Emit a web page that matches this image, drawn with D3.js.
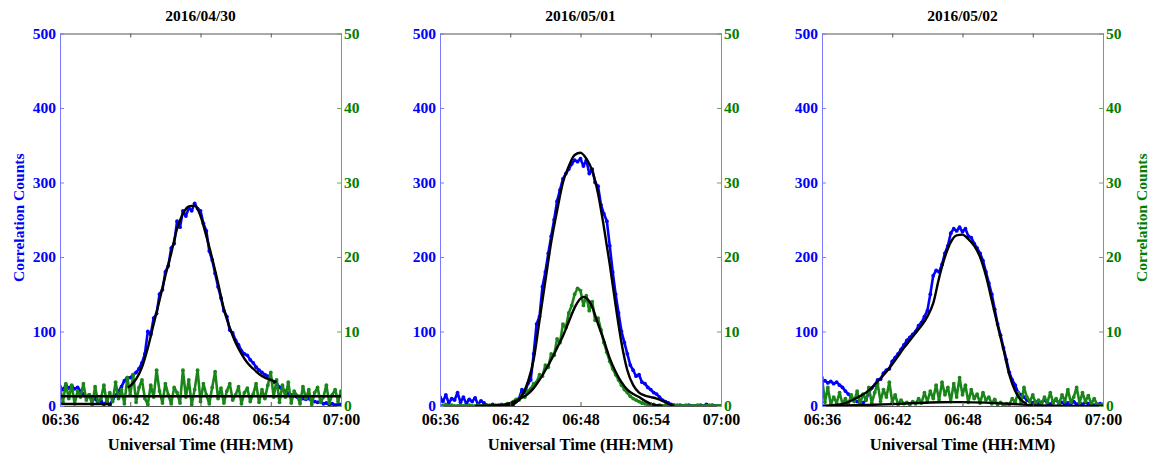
<!DOCTYPE html>
<html>
<head>
<meta charset="utf-8">
<script src="https://cdn.jsdelivr.net/npm/d3@7"></script>
<style>
  body { margin: 0; background: #fff; }
  text { font-family: "Liberation Serif", "Times New Roman", serif; font-weight: bold; }
</style>
</head>
<body>
<div id="chart"></div>
<script>
// panel titles and axis ticks
var dates = ["2016/04/30", "2016/05/01", "2016/05/02"];
var xTicks = [0, 6, 12, 18, 24];               // minutes after 06:36
var xTickLabels = ["06:36", "06:42", "06:48", "06:54", "07:00"];
var leftTicks = [0, 100, 200, 300, 400, 500];
var rightTicks = [0, 10, 20, 30, 40, 50];
var sampleStep = 0.25;                          // minutes between samples

// 2016/04/30 samples (06:36 .. 07:00, every 15 s)
var blue0430 = [26, 22, 28, 24, 27, 23, 25, 20, 16, 12, 15, 8, 10, 4, 7, 2,
    6, 1, 9, 14, 20, 26, 34, 38, 38, 42, 45, 50, 58, 70, 100, 96,
    118, 124, 150, 156, 180, 188, 212, 218, 248, 240, 262, 255, 266, 262, 272, 265,
    262, 245, 235, 208, 196, 178, 160, 145, 128, 120, 102, 98, 88, 82, 74, 70,
    68, 62, 58, 52, 48, 45, 42, 40, 36, 32, 30, 25, 22, 20, 17, 15,
    14, 12, 13, 10, 9, 10, 7, 6, 5, 6, 3, 4, 2, 3, 1, 2, 2];
var green0430 = [2.5, 0.5, 3.0, 1.0, 2.8, 0.3, 2.0, 1.2, 3.0, 0.8, 1.5, 0.2, 2.6, 0.5, 1.0, 2.8,
    0.4, 1.8, 0.6, 3.2, 1.0, 2.2, 0.3, 3.8, 1.5, 4.2, 0.5, 2.5, 3.5, 1.0, 0.2, 2.8,
    1.2, 4.8, 2.0, 0.4, 3.0, 1.5, 0.3, 2.5, 1.8, 0.4, 4.8, 1.2, 3.5, 0.2, 2.2, 4.8,
    0.6, 3.0, 1.5, 0.3, 2.5, 4.6, 1.0, 2.4, 0.4, 2.0, 3.0, 0.8, 1.5, 2.6, 0.3, 1.8,
    2.4, 0.6, 1.6, 3.0, 0.5, 2.2, 1.0, 2.8, 4.5, 1.2, 3.5, 0.5, 2.8, 1.2, 3.2, 0.4,
    2.0, 1.4, 0.3, 2.6, 1.0, 2.2, 0.2, 1.8, 2.5, 0.5, 1.2, 2.8, 0.4, 1.5, 2.2, 0.6, 2.0];
var blueFit0430 = [[5.8, 25], [6, 27], [6.5, 36], [7, 52], [7.5, 78], [8, 110], [8.5, 142], [9, 175],
    [9.5, 205], [10, 238], [10.5, 258], [11, 268], [11.5, 269], [12, 255], [12.5, 228], [13, 198],
    [13.5, 165], [14, 130], [14.5, 105], [15, 85], [15.5, 70], [16, 58], [16.5, 50], [17, 43],
    [17.5, 38], [18, 35], [18.5, 32]];
var blueTail0430 = [[0.1, 2.7], [4.4, 2.7]];
var greenFit0430 = [[0, 1.3], [24, 1.3]];

// 2016/05/01
var blue0501 = [12, 6, 15, 4, 10, 8, 18, 5, 12, 3, 9, 6, 11, 2, 7, 4,
    1, 0, 2, 0, 1, 0, 0, 1, 0, 2, 6, 10, 22, 18, 30, 35,
    70, 110, 120, 160, 180, 205, 228, 250, 275, 290, 305, 312, 318, 325, 330, 328,
    332, 322, 330, 312, 318, 300, 295, 270, 258, 248, 215, 180, 150, 125, 100, 85,
    70, 55, 48, 40, 42, 32, 30, 25, 22, 18, 16, 12, 8, 6, 4, 2,
    1, 0, 1, 0, 0, 1, 0, 0, 0, 1, 0, 2, 0, 1, 0, 0, 0];
var green0501 = [0.1, 0, 0.2, 0, 0.1, 0, 0, 0.1, 0, 0, 0.1, 0, 0, 0.1, 0, 0,
    0, 0.1, 0, 0.1, 0, 0.2, 0.1, 0.3, 0.3, 0.6, 0.9, 0.8, 1.5, 1.2, 2.0, 2.3,
    3.0, 3.2, 4.2, 4.0, 5.5, 5.2, 7.0, 6.8, 9.0, 8.5, 11.0, 10.5, 12.5, 13.5, 15.0, 15.8,
    15.5, 13.5, 14.8, 12.8, 14.0, 11.5, 11.8, 10.2, 8.5, 7.2, 6.0, 5.0, 4.2, 3.5, 2.8, 2.2,
    1.8, 1.3, 1.0, 0.8, 0.6, 0.4, 0.3, 0.2, 0.1, 0.2, 0, 0.1, 0, 0.1, 0, 0,
    0, 0.1, 0, 0, 0.1, 0, 0, 0, 0.1, 0, 0, 0, 0.1, 0, 0, 0, 0];
var blueFit0501 = [[3.5, 0], [5, 0.2], [6, 1], [6.5, 5], [7, 14], [7.5, 32], [8, 62], [8.5, 115],
    [9, 168], [9.5, 220], [10, 262], [10.5, 300], [11, 322], [11.5, 337], [12, 340], [12.5, 332],
    [13, 316], [13.5, 285], [14, 240], [14.5, 190], [15, 135], [15.5, 85], [16, 48], [16.5, 28],
    [17, 18], [17.5, 14], [18, 12], [18.5, 10], [19, 7], [19.5, 3], [20, 0]];
var greenFit0501 = [[3, 0], [5, 0.1], [6, 0.4], [7, 1.1], [7.5, 1.6], [8, 2.4], [8.5, 3.5], [9, 4.8],
    [9.5, 6.2], [10, 7.8], [10.5, 9.4], [11, 11.3], [11.5, 13.2], [12, 14.4], [12.25, 14.65],
    [12.5, 14.5], [13, 13.3], [13.5, 11.0], [14, 8.8], [14.5, 6.4], [15, 4.6], [15.5, 3.2],
    [16, 2.2], [16.5, 1.6], [17, 1.2], [17.5, 0.7], [18, 0.3], [18.5, 0.1], [19, 0]];

// 2016/05/02
var blue0502 = [32, 34, 31, 33, 30, 32, 28, 25, 20, 16, 12, 8, 6, 5, 4, 8,
    18, 24, 28, 35, 36, 44, 48, 50, 60, 65, 70, 76, 82, 88, 92, 96,
    100, 108, 112, 120, 128, 150, 175, 182, 180, 190, 205, 215, 232, 238, 235, 240,
    234, 238, 228, 226, 218, 212, 205, 195, 180, 165, 150, 130, 110, 95, 78, 62,
    45, 35, 28, 18, 15, 12, 8, 6, 4, 6, 3, 5, 8, 4, 2, 6,
    8, 3, 5, 2, 4, 3, 6, 2, 4, 2, 5, 3, 2, 1, 2, 3, 2];
var green0502 = [3.8, 0.5, 2.5, 0.2, 1.2, 0.4, 1.8, 0.3, 1.0, 0.2, 1.5, 0.6, 2.0, 0.3, 1.6, 0.8,
    2.5, 0.4, 1.8, 3.0, 0.6, 2.2, 1.2, 3.2, 0.5, 1.5, 0.2, 0.8, 0.3, 0.5, 0.2, 0.6,
    0.3, 1.0, 0.4, 1.8, 0.6, 2.0, 1.0, 2.8, 0.8, 3.2, 1.5, 2.5, 0.6, 3.0, 1.2, 3.8,
    1.5, 2.8, 0.5, 2.2, 1.0, 1.6, 0.4, 1.8, 0.8, 1.2, 0.3, 0.9, 0.2, 0.5, 0.1, 0.3,
    0.2, 1.0, 0.5, 1.8, 0.4, 2.5, 1.2, 0.6, 1.5, 0.4, 0.8, 0.2, 1.2, 0.5, 1.8, 0.4,
    1.0, 0.3, 1.5, 0.6, 2.2, 0.5, 1.2, 2.5, 0.4, 1.8, 0.6, 1.4, 0.3, 1.0, 0.2, 0.1, 0.2];
var blueFit0502 = [[0.8, 1], [2, 4], [3, 11], [4, 21], [5, 37], [5.5, 46], [6, 56], [6.5, 67], [7, 78],
    [7.5, 88], [8, 98], [8.5, 108], [9, 120], [9.5, 138], [10, 172], [10.5, 200], [11, 220],
    [11.5, 229], [12, 230], [12.5, 224], [13, 215], [13.5, 200], [14, 175], [14.5, 142], [15, 108],
    [15.5, 76], [16, 42], [16.5, 20], [17, 8], [17.5, 3]];
var greenFit0502 = [[0, 0.05], [2, 0.08], [4, 0.15], [6, 0.25], [8, 0.4], [10, 0.5], [12, 0.52],
    [14, 0.45], [16, 0.3], [18, 0.12], [20, 0.05], [22, 0.02], [24, 0.02]];

var panels = [
    { date: dates[0], left: 60, blue: blue0430, green: green0430, blueFits: [blueFit0430, blueTail0430], greenFits: [greenFit0430] },
    { date: dates[1], left: 440, blue: blue0501, green: green0501, blueFits: [blueFit0501], greenFits: [greenFit0501] },
    { date: dates[2], left: 822, blue: blue0502, green: green0502, blueFits: [blueFit0502], greenFits: [greenFit0502] }
];

var width = 1151, height = 454;
var plotW = 281, plotTop = 33.5, plotBottom = 406;
var ph = plotBottom - plotTop;
var blueC = "#0000ff", greenC = "#008000", greenDot = "#1a861a";

var svg = d3.select("#chart").append("svg")
    .attr("width", width)
    .attr("height", height)
    .style("background", "#fff");

var x = d3.scaleLinear().domain([0, 24]).range([0, plotW]);
var yL = d3.scaleLinear().domain([0, 500]).range([ph, 0]);
var yR = d3.scaleLinear().domain([0, 50]).range([ph, 0]);

svg.append("defs").append("clipPath").attr("id", "clip")
    .append("rect").attr("width", plotW).attr("height", ph + 1);

panels.forEach(function (p, k) {
    var g = svg.append("g").attr("transform", "translate(" + p.left + "," + plotTop + ")");

    // title
    g.append("text")
        .attr("x", plotW / 2).attr("y", -13)
        .attr("text-anchor", "middle")
        .style("font-size", "15.5px")
        .text(p.date);

    var plot = g.append("g").attr("clip-path", "url(#clip)");

    // noisy samples: jagged line + dots, gives the dense band look
    function drawSamples(vals, yScale, color) {
        var pts = vals.map(function (v, i) { return [i * sampleStep, v]; });
        plot.append("path")
            .datum(pts)
            .attr("fill", "none")
            .attr("stroke", color)
            .attr("stroke-width", 2.6)
            .attr("stroke-linejoin", "bevel")
            .attr("d", d3.line()
                .x(function (d) { return x(d[0]); })
                .y(function (d) { return yScale(d[1]); }));
        plot.selectAll(null)
            .data(pts).enter()
            .append("circle")
            .attr("cx", function (d) { return x(d[0]); })
            .attr("cy", function (d) { return yScale(d[1]); })
            .attr("r", 1.9)
            .attr("fill", color);
    }
    drawSamples(p.blue, yL, blueC);
    drawSamples(p.green, yR, greenDot);

    // fitted curves
    function drawFit(pts, yScale) {
        plot.append("path")
            .datum(pts)
            .attr("fill", "none")
            .attr("stroke", "#000")
            .attr("stroke-width", 2.4)
            .attr("d", d3.line()
                .curve(d3.curveMonotoneX)
                .x(function (d) { return x(d[0]); })
                .y(function (d) { return yScale(d[1]); }));
    }
    p.blueFits.forEach(function (f) { drawFit(f, yL); });
    p.greenFits.forEach(function (f) { drawFit(f, yR); });

    // axes
    var xAxis = d3.axisBottom(x)
        .tickValues(xTicks)
        .tickFormat(function (d, i) { return xTickLabels[i]; })
        .tickSizeInner(-4).tickSizeOuter(0).tickPadding(8);
    var xg = g.append("g").attr("transform", "translate(0," + ph + ")").call(xAxis);
    xg.select(".domain").attr("stroke", "#555");
    xg.selectAll(".tick line").attr("stroke", "#555");
    xg.selectAll("text").attr("fill", "#000").style("font-size", "16px");

    var topAxis = d3.axisTop(x).tickValues(xTicks).tickFormat("")
        .tickSizeInner(-4).tickSizeOuter(0);
    var tg = g.append("g").call(topAxis);
    tg.select(".domain").attr("stroke", "#555");
    tg.selectAll(".tick line").attr("stroke", "#555");

    var lAxis = d3.axisLeft(yL).tickValues(leftTicks)
        .tickSizeInner(-4).tickSizeOuter(0).tickPadding(4);
    var lg = g.append("g").call(lAxis);
    lg.select(".domain").attr("stroke", "#7a7aff");
    lg.selectAll(".tick line").attr("stroke", "#7a7aff");
    lg.selectAll("text").attr("fill", blueC).style("font-size", "15.5px");

    var rAxis = d3.axisRight(yR).tickValues(rightTicks)
        .tickSizeInner(-4).tickSizeOuter(0).tickPadding(3);
    var rg = g.append("g").attr("transform", "translate(" + plotW + ",0)").call(rAxis);
    rg.select(".domain").attr("stroke", "#6aa86a");
    rg.selectAll(".tick line").attr("stroke", "#6aa86a");
    rg.selectAll("text").attr("fill", greenC).style("font-size", "15.5px");

    // x label
    g.append("text")
        .attr("x", plotW / 2).attr("y", ph + 44)
        .attr("text-anchor", "middle")
        .style("font-size", "16.5px")
        .text("Universal Time (HH:MM)");

    if (k === 0) {
        g.append("text")
            .attr("transform", "translate(-36," + (ph / 2 - 2) + ") rotate(-90)")
            .attr("text-anchor", "middle")
            .attr("fill", blueC)
            .style("font-size", "15.5px")
            .text("Correlation Counts");
    }
    if (k === 2) {
        g.append("text")
            .attr("transform", "translate(" + (plotW + 44) + "," + (ph / 2 - 2) + ") rotate(-90)")
            .attr("text-anchor", "middle")
            .attr("fill", greenC)
            .style("font-size", "15.5px")
            .text("Correlation Counts");
    }
});
</script>
</body>
</html>
